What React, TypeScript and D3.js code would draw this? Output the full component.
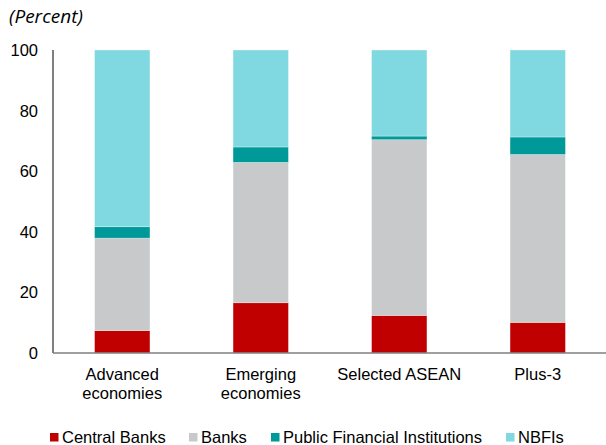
import React from "react";
import * as d3 from "d3";

const categories = ["Advanced|economies", "Emerging|economies", "Selected ASEAN", "Plus-3"];
const seriesNames = ["Central Banks", "Banks", "Public Financial Institutions", "NBFIs"];
const centralBanks = [7.4, 16.6, 12.4, 10.1];
const banks = [30.5, 46.3, 58.0, 55.4];
const publicFI = [3.8, 5.1, 1.2, 5.8];
const nbfis = [58.3, 32.0, 28.4, 28.7];
const yTicks = [0, 20, 40, 60, 80, 100];
const colors = ["#C00000", "#C8C9CB", "#009999", "#80D8E0"];
const legendX = [50, 189, 271, 506];

export default function App() {
  const width = 606;
  const height = 445;
  const marginLeft = 53;
  const marginTop = 50;
  const plotBottom = 353;
  const font = "Liberation Sans, Arial, sans-serif";

  const x = d3
    .scaleBand()
    .domain(categories)
    .range([marginLeft, marginLeft + 554])
    .paddingInner(0.6)
    .paddingOuter(0.3);
  const y = d3.scaleLinear().domain([0, 100]).range([plotBottom, marginTop]);

  // one row per category, stacked in series order
  const table = categories.map((c, i) => ({
    cat: c,
    s0: centralBanks[i],
    s1: banks[i],
    s2: publicFI[i],
    s3: nbfis[i],
  }));
  const layers = d3.stack<any>().keys(["s0", "s1", "s2", "s3"])(table);

  return (
    <svg
      width={width}
      height={height}
      style={{ position: "absolute", left: 0, top: 0, background: "#fff" }}
    >
      <text
        x={9}
        y={23}
        fontFamily="Open Sans, sans-serif"
        fontStyle="italic"
        fontSize={19}
        fill="#000"
      >
        (Percent)
      </text>

      {layers.map((layer, li) => (
        <g key={li} fill={colors[li]} stroke="#fff" strokeOpacity={0.4} strokeWidth={0.8}>
          {layer.map((d, i) => (
            <rect
              key={i}
              x={x(categories[i])}
              y={y(d[1])}
              width={x.bandwidth()}
              height={y(d[0]) - y(d[1])}
            />
          ))}
        </g>
      ))}

      <line x1={marginLeft} x2={marginLeft} y1={marginTop} y2={plotBottom} stroke="#000" strokeWidth={1} />
      <line x1={marginLeft} x2={width} y1={plotBottom} y2={plotBottom} stroke="#7f7f7f" strokeWidth={1.5} />

      {yTicks.map((t) => (
        <text
          key={t}
          x={38}
          y={y(t) + 6}
          textAnchor="end"
          fontFamily={font}
          fontSize={16.5}
          fill="#000"
        >
          {t}
        </text>
      ))}

      {categories.map((c) => (
        <text
          key={c}
          x={(x(c) as number) + x.bandwidth() / 2}
          y={380}
          textAnchor="middle"
          fontFamily={font}
          fontSize={16.5}
          fill="#000"
        >
          {c.split("|").map((line, k) => (
            <tspan key={k} x={(x(c) as number) + x.bandwidth() / 2} dy={k === 0 ? 0 : 19}>
              {line}
            </tspan>
          ))}
        </text>
      ))}

      {seriesNames.map((name, i) => (
        <g key={name}>
          <rect x={legendX[i]} y={433} width={8.5} height={8.5} fill={colors[i]} />
          <text x={legendX[i] + 12} y={443} fontFamily={font} fontSize={16.5} fill="#000">
            {name}
          </text>
        </g>
      ))}
    </svg>
  );
}
